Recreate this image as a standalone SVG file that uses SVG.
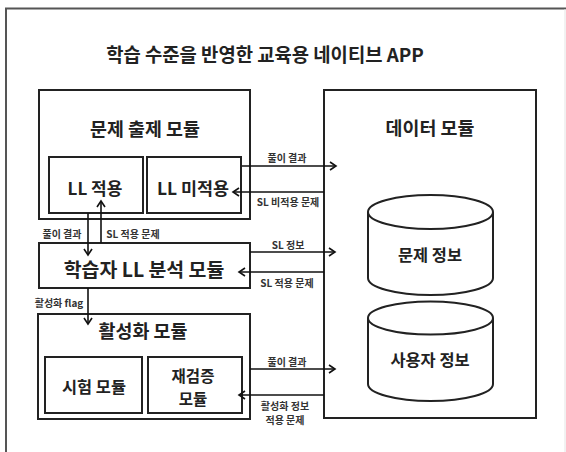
<svg xmlns="http://www.w3.org/2000/svg" width="566" height="452" viewBox="0 0 566 452">
<defs>
<marker id="ah" markerWidth="10" markerHeight="10" refX="8" refY="5" orient="auto" markerUnits="userSpaceOnUse">
<path d="M2,1 L8,5 L2,9" fill="none" stroke="#111" stroke-width="1.6"/>
</marker>
</defs>
<style>
.box{fill:#fff;stroke:#222;stroke-width:2}
.t{font-family:"Noto Sans CJK KR","Noto Sans",sans-serif;font-weight:bold;fill:#222;text-anchor:middle;dominant-baseline:central}
.s{font-family:"Noto Sans CJK KR","Noto Sans",sans-serif;font-weight:bold;fill:#333;text-anchor:middle;dominant-baseline:central;font-size:10px}
.arr{fill:none;stroke:#111;stroke-width:1.6;marker-end:url(#ah)}
</style>
<rect width="566" height="452" fill="#fff"/>
<path d="M6,452 V8.5 H566" fill="none" stroke="#555" stroke-width="2"/>
<line x1="565" y1="9" x2="565" y2="452" stroke="#e4e4e4" stroke-width="1"/>
<text class="t" x="265" y="53" font-size="18.8">학습 수준을 반영한 교육용 네이티브 APP</text>

<g id="problem-module">
<rect class="box" x="39" y="90" width="211" height="129"/>
<text class="t" x="145" y="128" font-size="18.4">문제 출제 모듈</text>
</g>
<g id="ll-apply">
<rect class="box" x="49" y="157" width="94" height="56"/>
<text class="t" x="95" y="187" font-size="17">LL 적용</text>
</g>
<g id="ll-notapply">
<rect class="box" x="147" y="157" width="94" height="56"/>
<text class="t" x="193" y="187" font-size="17.4">LL 미적용</text>
</g>
<g id="analysis-module">
<rect class="box" x="39" y="243" width="211" height="45"/>
<text class="t" x="144" y="268" font-size="19.4">학습자 LL 분석 모듈</text>
</g>
<g id="activation-module">
<rect class="box" x="38" y="314" width="212" height="105"/>
<text class="t" x="143" y="330" font-size="18.4">활성화 모듈</text>
</g>
<g id="test-module">
<rect class="box" x="45" y="357" width="97" height="56"/>
<text class="t" x="94" y="386" font-size="16.4">시험 모듈</text>
</g>
<g id="reverify-module">
<rect class="box" x="148" y="357" width="94" height="56"/>
<text class="t" x="193" y="375" font-size="15.5"><tspan x="193" y="375">재검증</tspan><tspan x="193" y="398">모듈</tspan></text>
</g>
<g id="data-module">
<rect class="box" x="324" y="90" width="212" height="328"/>
<text class="t" x="430" y="127" font-size="18.4">데이터 모듈</text>
</g>
<g id="problem-info">
<path d="M368,212 V278 A62.5,17 0 0 0 493,278 V212" fill="#fff" stroke="#222" stroke-width="2"/>
<ellipse cx="430.5" cy="212" rx="62.5" ry="17" fill="#fff" stroke="#222" stroke-width="2"/>
<text class="t" x="430" y="254" font-size="16.4">문제 정보</text>
</g>
<g id="user-info">
<path d="M368,318 V384 A62.5,17 0 0 0 493,384 V318" fill="#fff" stroke="#222" stroke-width="2"/>
<ellipse cx="430.5" cy="318" rx="62.5" ry="16.5" fill="#fff" stroke="#222" stroke-width="2"/>
<text class="t" x="430" y="359" font-size="16.4">사용자 정보</text>
</g>

<g id="connectors">
<line class="arr" x1="242" y1="166" x2="336" y2="166"/>
<text class="s" x="287" y="157">풀이 결과</text>
<line class="arr" x1="324" y1="192" x2="233" y2="192"/>
<text class="s" x="288" y="201">SL 비적용 문제</text>

<line class="arr" x1="88" y1="213" x2="88" y2="255"/>
<text class="s" x="62" y="233">풀이 결과</text>
<line class="arr" x1="101" y1="243" x2="101" y2="201"/>
<text class="s" x="133" y="233">SL 적용 문제</text>

<line class="arr" x1="250" y1="252" x2="335" y2="252"/>
<text class="s" x="288" y="244">SL 정보</text>
<line class="arr" x1="324" y1="272" x2="239" y2="272"/>
<text class="s" x="287" y="282">SL 적용 문제</text>

<line class="arr" x1="88" y1="288" x2="88" y2="324"/>
<text class="s" x="59" y="302">활성화 flag</text>

<line class="arr" x1="250" y1="369" x2="335" y2="369"/>
<text class="s" x="287" y="361">풀이 결과</text>
<line class="arr" x1="324" y1="395" x2="239" y2="395"/>
<text class="s" x="285" y="405" font-size="9.2"><tspan x="285" y="405">활성화 정보</tspan><tspan x="285" y="418.5">적용 문제</tspan></text>
</g>
</svg>
